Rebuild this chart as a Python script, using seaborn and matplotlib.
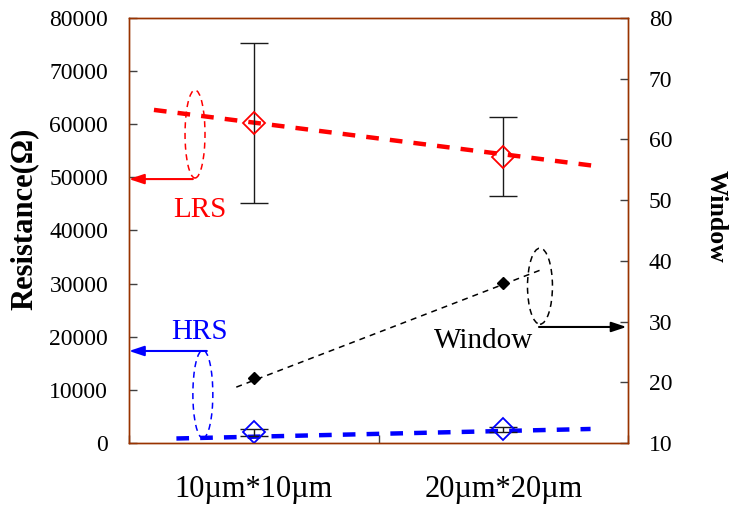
import numpy as np
import pandas as pd
import matplotlib
matplotlib.use("Agg")
import matplotlib.pyplot as plt
import seaborn as sns
from matplotlib.patches import Ellipse

# ---- data ----
categories = ["10µm*10µm", "20µm*20µm"]
lrs = [60200, 53900]
lrs_err = [15100, 7500]
hrs = [2000, 2600]
hrs_err = [600, 480]
window = [20.7, 36.3]

# fitted trend lines: span along the category axis and values at its ends
lrs_trend_x = [0.10, 1.86]
lrs_trend = [62700, 52200]
hrs_trend_x = [0.19, 1.85]
hrs_trend = [850, 2640]
win_trend_x = [0.43, 1.65]
win_trend = [19.2, 38.5]

left_ticks = list(range(0, 80001, 10000))
right_ticks = list(range(10, 81, 10))

# ---- style ----
sns.set_theme(style="white")
plt.rcParams["font.family"] = ["Liberation Serif", "DejaVu Serif"]

RED = "#ff0000"
BLUE = "#0000ff"
SPINE = "#993300"
TICK = "#404040"

fig = plt.figure(figsize=(7.34, 5.08), dpi=100)
ax = fig.add_axes([129 / 734, 1 - 443 / 508, 499 / 734, 425 / 508])
ax2 = ax.twinx()

xpos = np.arange(len(categories)) + 0.5
df = pd.DataFrame({"x": xpos, "LRS": lrs, "HRS": hrs, "Window": window})

# trend lines
thick_dash = (0, (2.85, 2.5))
sns.lineplot(x=lrs_trend_x, y=lrs_trend, ax=ax, color=RED, lw=3.2,
             linestyle=thick_dash, zorder=2)
sns.lineplot(x=hrs_trend_x, y=hrs_trend, ax=ax, color=BLUE, lw=3.2,
             linestyle=thick_dash, zorder=2)
sns.lineplot(x=win_trend_x, y=win_trend, ax=ax2, color="black", lw=1.1,
             linestyle=(0, (3.9, 3.3)), zorder=2)

# error bars
ax.errorbar(xpos, lrs, yerr=lrs_err, fmt="none", ecolor="#1a1a1a",
            elinewidth=1.0, capsize=10, capthick=1.0, zorder=3)
ax.errorbar(xpos, hrs, yerr=hrs_err, fmt="none", ecolor="#1a1a1a",
            elinewidth=1.0, capsize=10, capthick=1.0, zorder=3)

# hollow diamond markers for resistance, filled for window
sns.lineplot(data=df, x="x", y="LRS", ax=ax, marker="D", markersize=11,
             markerfacecolor="none", markeredgecolor=RED, mew=1.3,
             linestyle="none", zorder=4)
sns.lineplot(data=df, x="x", y="HRS", ax=ax, marker="D", markersize=11,
             markerfacecolor="none", markeredgecolor=BLUE, mew=1.3,
             linestyle="none", zorder=4)
sns.lineplot(data=df, x="x", y="Window", ax=ax2, marker="D", markersize=6.5,
             markerfacecolor="black", markeredgecolor="black", mew=1,
             linestyle="none", zorder=4)

# ---- axes ----
ax.set_xlim(0, 2)
ax.set_ylim(0, 80000)
ax2.set_ylim(10, 80)
ax.set_yticks(left_ticks)
ax.set_yticklabels([str(v) for v in left_ticks])
ax2.set_yticks(right_ticks)
ax2.set_yticklabels([str(v) for v in right_ticks])

ax.set_xticks([0, 1, 2])
ax.set_xticklabels(["", "", ""])
ax.set_xticks(xpos, minor=True)
ax.set_xticklabels(categories, minor=True)

ax.tick_params(axis="x", which="major", direction="in", length=6, width=1,
               color=TICK, bottom=True)
ax.tick_params(axis="x", which="minor", length=0, pad=23, labelsize=22,
               bottom=True, labelcolor="black")
ax.tick_params(axis="y", direction="in", length=6, width=1, color=TICK,
               left=True, labelsize=17, pad=15, labelcolor="black")
ax2.tick_params(axis="y", direction="in", length=6, width=1, color=TICK,
                right=True, labelsize=17, pad=15, labelcolor="black")

for a in (ax, ax2):
    a.set_xlabel("")
    a.set_ylabel("")
    for sp in a.spines.values():
        sp.set_visible(True)
        sp.set_color(SPINE)
        sp.set_linewidth(1.0)

# ---- annotations ----
ell_style = dict(fill=False, lw=1.1, linestyle=(0, (4, 3)),
                 transform=ax2.transAxes, zorder=5)
ax2.add_patch(Ellipse((0.1323, 0.727), 0.040, 0.207, edgecolor=RED, **ell_style))
ax2.add_patch(Ellipse((0.148, 0.115), 0.040, 0.207, edgecolor=BLUE, **ell_style))
ax2.add_patch(Ellipse((0.8236, 0.369), 0.050, 0.179, edgecolor="black", **ell_style))

arrow_style = "-|>,head_length=0.6,head_width=0.2"
for color, y, x0, x1 in [(RED, 0.621, 0.128, 0.0),
                         (BLUE, 0.2165, 0.156, 0.0),
                         ("black", 0.273, 0.8216, 0.997)]:
    ax2.annotate("", xy=(x1, y), xytext=(x0, y), xycoords="axes fraction",
                 arrowprops=dict(arrowstyle=arrow_style, color=color, lw=1.5,
                                 mutation_scale=15, shrinkA=0, shrinkB=0),
                 zorder=6)

ax2.text(0.142, 0.548, "LRS", color=RED, fontsize=21, ha="center",
         va="center", transform=ax2.transAxes)
ax2.text(0.142, 0.261, "HRS", color=BLUE, fontsize=21, ha="center",
         va="center", transform=ax2.transAxes)
ax2.text(0.711, 0.24, "Window", color="black", fontsize=21, ha="center",
         va="center", transform=ax2.transAxes)

fig.text(24 / 734, 1 - 219 / 508, "Resistance(Ω)", rotation=90, ha="center",
         va="center", fontsize=22, fontweight="bold", color="black")
fig.text(716 / 734, 1 - 216 / 508, "Window", rotation=-90, ha="center",
         va="center", fontsize=18.5, fontweight="bold", color="black")

fig.savefig("out.png", dpi=100, facecolor="white")
